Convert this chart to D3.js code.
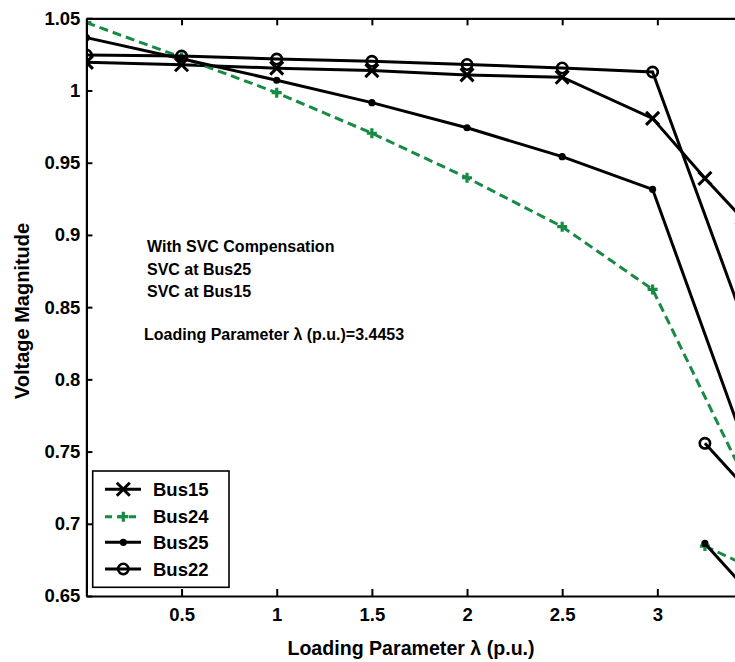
<!DOCTYPE html>
<html>
<head>
<meta charset="utf-8">
<script src="https://cdn.jsdelivr.net/npm/d3@7"></script>
<style>
  html, body { margin: 0; padding: 0; background: #fff; }
  svg { display: block; font-family: "Liberation Sans", Arial, sans-serif; font-weight: bold; }
</style>
</head>
<body>
<svg id="chart" width="735" height="662"></svg>
<script>
// ---- data ----
const lambdaUpper = [0, 0.5, 1, 1.5, 2, 2.5, 2.975, 3.25, 3.4453];
const bus15Upper  = [1.0195, 1.0178, 1.0155, 1.0138, 1.0108, 1.0092, 0.9807, 0.9392, 0.9117];

const lambdaMain  = [0, 0.5, 1, 1.5, 2, 2.5, 2.975, 3.4453];
const bus24Upper  = [1.047, 1.023, 0.9985, 0.9704, 0.9396, 0.9057, 0.8623, 0.735];
const bus25Upper  = [1.0366, 1.022, 1.0071, 0.9916, 0.9742, 0.9542, 0.9316, 0.7601];
const bus22Upper  = [1.0246, 1.0239, 1.0218, 1.0202, 1.0180, 1.0156, 1.0128, 0.8436];

const lambdaLower = [3.25, 3.4453];
const bus24Lower  = [0.6846, 0.6725];
const bus25Lower  = [0.6864, 0.6578];
const bus22Lower  = [0.7557, 0.7275];

const xTickValues = [0.5, 1, 1.5, 2, 2.5, 3, 3.5];
const xTickLabels = ["0.5", "1", "1.5", "2", "2.5", "3", ""];
const yTickValues = [0.65, 0.7, 0.75, 0.8, 0.85, 0.9, 0.95, 1, 1.05];
const yTickLabels = ["0.65", "0.7", "0.75", "0.8", "0.85", "0.9", "0.95", "1", "1.05"];
const seriesNames = ["Bus15", "Bus24", "Bus25", "Bus22"];
const annotations = ["With SVC Compensation", "SVC at Bus25", "SVC at Bus15"];
const maxLoadNote = "Loading Parameter \u03BB (p.u.)=3.4453";
const xLabel = "Loading Parameter \u03BB (p.u.)";
const yLabel = "Voltage Magnitude";

(function () {
// ---- build ----
const green = "#178a43";
const zip = (xs, ys) => xs.map((x, i) => ({x, y: ys[i]}));
const series = [
  {name: seriesNames[0], color: "#000", dash: null, marker: "x", segs: [zip(lambdaUpper, bus15Upper)]},
  {name: seriesNames[1], color: green, dash: "9,5", marker: "+", segs: [zip(lambdaMain, bus24Upper), zip(lambdaLower, bus24Lower)]},
  {name: seriesNames[2], color: "#000", dash: null, marker: "dot", segs: [zip(lambdaMain, bus25Upper), zip(lambdaLower, bus25Lower)]},
  {name: seriesNames[3], color: "#000", dash: null, marker: "o", segs: [zip(lambdaMain, bus22Upper), zip(lambdaLower, bus22Lower)]}
];

const svg = d3.select("#chart");
const pL = 86.4, pT = 18.3, pR = 752.5, pB = 596;
const x = d3.scaleLinear().domain([0, 3.5]).range([pL, pR]);
const y = d3.scaleLinear().domain([0.65, 1.05]).range([pB, pT]);

svg.append("defs").append("clipPath").attr("id", "plotclip")
  .append("rect").attr("x", pL).attr("y", pT).attr("width", pR - pL).attr("height", pB - pT);

const line = d3.line().x(d => x(d.x)).y(d => y(d.y));

function drawMarker(g, type, color) {
  if (type === "x") {
    g.append("path").attr("d", "M-6.5,-6.5L6.5,6.5M-6.5,6.5L6.5,-6.5").attr("stroke", color).attr("stroke-width", 3).attr("fill", "none");
  } else if (type === "+") {
    g.append("path").attr("d", "M-5,0H5M0,-5V5").attr("stroke", color).attr("stroke-width", 3.2).attr("fill", "none");
  } else if (type === "dot") {
    g.append("circle").attr("r", 3.6).attr("fill", color);
  } else if (type === "o") {
    g.append("circle").attr("r", 5.2).attr("fill", "none").attr("stroke", color).attr("stroke-width", 2.6);
  }
}

const plot = svg.append("g").attr("clip-path", "url(#plotclip)");
series.forEach(s => {
  s.segs.forEach(seg => {
    plot.append("path").datum(seg)
      .attr("d", line)
      .attr("fill", "none")
      .attr("stroke", s.color)
      .attr("stroke-width", 3)
      .attr("stroke-dasharray", s.dash);
    seg.forEach(p => {
      const g = plot.append("g").attr("transform", `translate(${x(p.x)},${y(p.y)})`);
      drawMarker(g, s.marker, s.color);
    });
  });
});

// ---- axes ----
const tickFont = 18.5;
const fmtY = d => yTickLabels[yTickValues.indexOf(d)];
const fmtX = d => xTickLabels[xTickValues.indexOf(d)];

const xAxis = svg.append("g").attr("transform", `translate(0,${pB})`)
  .call(d3.axisBottom(x).tickValues(xTickValues).tickSizeInner(-7).tickSizeOuter(0).tickPadding(12).tickFormat(fmtX));
const xTop = svg.append("g").attr("transform", `translate(0,${pT})`)
  .call(d3.axisTop(x).tickValues(xTickValues).tickSizeInner(-7).tickSizeOuter(0).tickFormat(""));
const yAxis = svg.append("g").attr("transform", `translate(${pL},0)`)
  .call(d3.axisLeft(y).tickValues(yTickValues).tickSizeInner(-6).tickSizeOuter(0).tickPadding(6).tickFormat(fmtY));
const yRight = svg.append("g").attr("transform", `translate(${pR},0)`)
  .call(d3.axisRight(y).tickValues(yTickValues).tickSizeInner(-6).tickSizeOuter(0).tickFormat(""));

[xAxis, xTop, yAxis, yRight].forEach(a => {
  a.select(".domain").attr("stroke", "#000").attr("stroke-width", 2.2);
  a.selectAll(".tick line").attr("stroke", "#000").attr("stroke-width", 2);
  a.selectAll("text").attr("fill", "#000").attr("font-size", tickFont)
    .attr("font-family", "'Liberation Sans', Arial, sans-serif").attr("font-weight", "bold");
});
xAxis.selectAll(".tick text").filter(function () { return this.textContent === ""; }).remove();

// axis labels
svg.append("text").attr("x", 411).attr("y", 654.5)
  .attr("text-anchor", "middle").attr("font-size", 19.6).text(xLabel);
svg.append("text").attr("transform", `translate(28.5,311) rotate(-90)`)
  .attr("text-anchor", "middle").attr("font-size", 20).text(yLabel);

// annotations
const annBase = [251.7, 275, 297.3];
annotations.forEach((t, i) => {
  svg.append("text").attr("x", 147).attr("y", annBase[i]).attr("font-size", 16).text(t);
});
svg.append("text").attr("x", 144).attr("y", 340).attr("font-size", 16).text(maxLoadNote);

// legend
const lg = svg.append("g");
lg.append("rect").attr("x", 92.7).attr("y", 471).attr("width", 136.3).attr("height", 116.3)
  .attr("fill", "#fff").attr("stroke", "#000").attr("stroke-width", 1.6);
const legendY = [489.3, 516.7, 542.3, 569];
series.forEach((s, i) => {
  const gy = legendY[i];
  lg.append("line").attr("x1", 105).attr("x2", 141).attr("y1", gy).attr("y2", gy)
    .attr("stroke", s.color).attr("stroke-width", 3).attr("stroke-dasharray", s.dash ? "7,5" : null);
  const g = lg.append("g").attr("transform", `translate(123.3,${gy})`);
  drawMarker(g, s.marker, s.color);
  lg.append("text").attr("x", 153).attr("y", gy + 6.6).attr("font-size", 18.5).text(s.name);
});
})();
</script>
</body>
</html>
